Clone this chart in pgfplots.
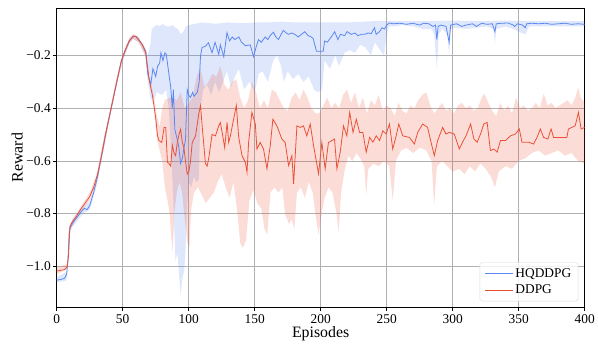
\documentclass[border=0pt]{standalone}
\usepackage{fontspec}
\setmainfont{Liberation Serif}
\usepackage{pgfplots}
\usepackage{pgfplotstable}
\pgfplotsset{compat=1.18}
\usepgfplotslibrary{fillbetween}
\definecolor{hqblue}{RGB}{90,135,240}
\definecolor{ddred}{RGB}{235,80,55}
\definecolor{gridgray}{RGB}{176,176,176}

\pgfplotstableread{
x y
0 -1.052
3 -1.05
6 -1.045
7.5 -1.03
8.5 -0.98
9.5 -0.87
10.5 -0.85
13 -0.83
16 -0.81
19 -0.79
21 -0.78
23 -0.785
25 -0.77
28 -0.72
31 -0.66
34 -0.58
37 -0.50
40 -0.43
43 -0.36
46 -0.29
49 -0.22
52 -0.18
55 -0.145
58 -0.128
60 -0.128
62 -0.14
65 -0.16
67.5 -0.185
69 -0.27
71.3 -0.31
72.9 -0.25
74 -0.265
75 -0.28
76.5 -0.24
78 -0.23
79 -0.19
80.5 -0.22
82 -0.19
83 -0.195
85 -0.27
86.4 -0.32
87.6 -0.40
88.4 -0.33
89.5 -0.48
91.4 -0.52
92.6 -0.55
93.9 -0.61
95.2 -0.59
96.4 -0.55
97.6 -0.52
98.9 -0.33
100 -0.35
101.4 -0.36
103 -0.34
104 -0.355
106.5 -0.34
108 -0.30
109 -0.20
110.2 -0.17
112.7 -0.165
115 -0.152
117.7 -0.19
120 -0.15
122.8 -0.196
124 -0.16
126.6 -0.205
129 -0.114
131 -0.145
133 -0.13
135 -0.14
138 -0.13
140 -0.15
143 -0.163
146.6 -0.16
149.2 -0.205
151 -0.17
152.9 -0.14
155 -0.15
158 -0.13
160 -0.14
161.7 -0.125
164.2 -0.112
166 -0.13
168 -0.14
170 -0.12
171.7 -0.105
174 -0.115
175.5 -0.12
178 -0.115
180.5 -0.12
183 -0.13
185.5 -0.12
188 -0.11
190.5 -0.125
193 -0.13
194.3 -0.136
196.8 -0.184
200 -0.184
201.9 -0.184
203 -0.145
205 -0.15
208 -0.13
210.6 -0.11
213 -0.14
215 -0.12
218.2 -0.125
220 -0.11
223.2 -0.12
226 -0.115
228.2 -0.125
231 -0.12
233.3 -0.12
236 -0.115
238.3 -0.117
240.8 -0.095
242 -0.12
244.6 -0.11
246.5 -0.095
248.4 -0.10
250 -0.085
252.1 -0.077
255 -0.08
260 -0.078
265 -0.082
270 -0.078
275 -0.085
278 -0.078
282 -0.08
285 -0.09
287 -0.085
288 -0.14
289 -0.09
291 -0.085
295 -0.09
297.3 -0.15
298.5 -0.085
303 -0.08
307 -0.09
310 -0.085
315 -0.08
318 -0.09
322 -0.078
326 -0.082
330 -0.08
332 -0.11
333 -0.08
337 -0.078
342 -0.077
346 -0.085
347 -0.09
349 -0.08
353 -0.085
355 -0.095
356 -0.08
360 -0.078
365 -0.08
370 -0.078
375 -0.082
380 -0.08
385 -0.078
390 -0.082
395 -0.08
400 -0.082
}\hqmean

\pgfplotstableread{
x y
0 -1.04
8 -1.02
9.5 -0.86
12 -0.82
20 -0.77
25 -0.755
30 -0.67
35 -0.545
40 -0.42
45 -0.30
50 -0.2
55 -0.135
58 -0.12
62 -0.13
67 -0.17
69 -0.2
71 -0.16
72 -0.10
74 -0.09
76 -0.085
78 -0.09
80 -0.08
83 -0.09
86 -0.09
88 -0.085
90 -0.095
92 -0.10
94 -0.12
96 -0.11
98 -0.09
100 -0.085
105 -0.08
110 -0.075
120 -0.08
130 -0.075
140 -0.078
150 -0.075
160 -0.075
170 -0.072
180 -0.075
200 -0.075
220 -0.075
240 -0.07
250 -0.07
260 -0.07
280 -0.07
300 -0.068
320 -0.07
340 -0.068
360 -0.07
380 -0.07
400 -0.07
}\hqup

\pgfplotstableread{
x y
0 -1.06
7 -1.055
8 -1.04
9.5 -0.88
12 -0.85
20 -0.80
25 -0.785
30 -0.70
35 -0.575
40 -0.44
45 -0.32
50 -0.225
55 -0.155
58 -0.138
62 -0.15
67 -0.2
69 -0.30
71 -0.36
73 -0.38
76 -0.34
80 -0.35
83 -0.33
85 -0.40
86.5 -0.55
88 -0.70
89 -0.85
90 -0.98
91.5 -0.95
93 -1.05
94 -1.11
95 -1.05
96.5 -1.02
97.5 -0.95
98.5 -0.80
100 -0.68
102 -0.70
104 -0.66
106 -0.68
107.7 -0.67
109 -0.40
111 -0.33
114 -0.31
117 -0.35
120 -0.30
123 -0.34
126 -0.30
129 -0.26
132 -0.32
135 -0.28
138 -0.25
142 -0.33
146 -0.30
150 -0.34
153 -0.27
156 -0.26
160 -0.30
164 -0.22
167 -0.20
170 -0.24
172 -0.30
175 -0.26
179 -0.29
183 -0.27
187 -0.30
191 -0.28
195 -0.33
198 -0.34
201 -0.33
203 -0.22
207 -0.25
211 -0.20
214 -0.24
218 -0.19
222 -0.18
226 -0.19
230 -0.16
234 -0.17
238 -0.20
241 -0.15
245 -0.18
248 -0.20
250 -0.12
252 -0.09
256 -0.09
262 -0.085
270 -0.09
278 -0.10
284 -0.10
286 -0.12
288 -0.25
289.5 -0.12
292 -0.10
296 -0.12
297.3 -0.20
298.5 -0.10
303 -0.095
310 -0.10
318 -0.095
326 -0.09
331 -0.10
332 -0.16
333 -0.10
340 -0.09
346 -0.10
350 -0.11
355 -0.12
358 -0.09
365 -0.09
375 -0.09
385 -0.09
395 -0.09
400 -0.09
}\hqlow

\pgfplotstableread{
x y
0 -1.018
3 -1.015
6 -1.012
8 -1.0
9 -0.96
10 -0.85
12 -0.83
15 -0.81
18 -0.785
20 -0.77
23 -0.75
25 -0.735
28 -0.70
31 -0.65
34 -0.58
37 -0.50
40 -0.43
43 -0.36
46 -0.29
49 -0.22
52 -0.18
55 -0.145
58 -0.127
60 -0.128
62 -0.14
65 -0.16
67.5 -0.19
70 -0.29
72.6 -0.353
75.1 -0.44
76.4 -0.505
77.6 -0.523
79.6 -0.53
81.4 -0.473
82.6 -0.473
83.9 -0.605
85.1 -0.61
86.4 -0.62
87.6 -0.54
88.9 -0.57
90.1 -0.58
91.4 -0.53
92.7 -0.50
93.9 -0.48
95.2 -0.53
96.4 -0.55
97.6 -0.60
98.9 -0.65
100.2 -0.64
101.4 -0.60
102.7 -0.53
105.2 -0.505
107.7 -0.42
109 -0.39
110.2 -0.467
112.7 -0.61
114 -0.62
115.2 -0.59
117.7 -0.50
120.3 -0.505
122.8 -0.467
124 -0.455
125.3 -0.49
127.3 -0.55
129.1 -0.454
130.3 -0.53
131.6 -0.505
134.1 -0.44
136.1 -0.39
137.9 -0.51
140.4 -0.58
142.9 -0.605
144.2 -0.643
145.4 -0.53
147.9 -0.416
150.5 -0.46
151.7 -0.555
154.2 -0.53
156.7 -0.555
159.3 -0.63
161.8 -0.542
163.8 -0.442
166.8 -0.467
170.6 -0.517
173.1 -0.53
175.7 -0.618
178.2 -0.58
179.5 -0.687
182 -0.467
184.5 -0.473
187 -0.467
189.5 -0.505
192.1 -0.46
194.6 -0.542
198.4 -0.649
200.9 -0.53
203.4 -0.63
205.9 -0.53
208.5 -0.523
210.5 -0.517
212.3 -0.63
214.8 -0.567
217.3 -0.467
219.8 -0.505
222 -0.416
224.5 -0.492
227 -0.442
229.5 -0.492
232 -0.492
234.5 -0.567
237.1 -0.511
239.6 -0.529
242.1 -0.505
244.6 -0.523
247.1 -0.486
249.6 -0.498
252.1 -0.46
254.6 -0.555
257.2 -0.505
259.2 -0.46
262.2 -0.505
267.2 -0.511
271 -0.536
273.5 -0.492
277.3 -0.46
281 -0.473
283.6 -0.529
286.1 -0.58
288.6 -0.523
292.4 -0.473
294.9 -0.498
297.4 -0.492
301.2 -0.498
305 -0.555
307.5 -0.529
310.1 -0.505
313.6 -0.46
316.1 -0.517
318.6 -0.529
321.1 -0.498
323.6 -0.46
326.1 -0.454
328.6 -0.561
331.2 -0.555
333.7 -0.567
336.2 -0.523
340 -0.523
343.8 -0.505
347.5 -0.498
350.5 -0.479
352.5 -0.529
357.6 -0.529
361.3 -0.536
363.9 -0.511
366.4 -0.479
368.9 -0.511
372.1 -0.517
374.6 -0.479
376.4 -0.511
382.7 -0.511
386.5 -0.511
387.7 -0.479
390.3 -0.473
392.8 -0.467
395.3 -0.416
397.3 -0.479
400 -0.473
}\ddmean

\pgfplotstableread{
x y
0 -1.005
8 -0.99
10 -0.84
15 -0.80
20 -0.76
25 -0.72
30 -0.655
35 -0.53
40 -0.415
45 -0.29
50 -0.195
55 -0.135
58 -0.118
62 -0.13
67 -0.18
70 -0.28
73 -0.34
76 -0.43
78 -0.47
80 -0.40
82 -0.37
85 -0.36
88 -0.36
91 -0.37
94 -0.34
97 -0.40
100 -0.38
103 -0.36
106 -0.28
109 -0.25
112 -0.32
115 -0.30
118 -0.27
121 -0.28
124 -0.24
127 -0.31
130 -0.33
133 -0.30
136 -0.29
139 -0.36
142 -0.40
145 -0.37
148 -0.30
151 -0.34
154 -0.40
157 -0.37
160 -0.40
163 -0.33
166 -0.34
169 -0.37
172 -0.40
175 -0.41
178 -0.36
181 -0.34
184 -0.37
187 -0.33
190 -0.36
193 -0.40
196 -0.42
199 -0.42
202 -0.39
205 -0.36
208 -0.40
211 -0.38
214 -0.40
217 -0.35
220 -0.33
223 -0.38
226 -0.34
229 -0.40
232 -0.36
235 -0.42
238 -0.37
241 -0.39
244 -0.35
247 -0.41
250 -0.39
253 -0.40
256 -0.43
259 -0.38
262 -0.41
265 -0.42
268 -0.39
271 -0.40
274 -0.37
277 -0.35
280 -0.34
283 -0.39
286 -0.42
289 -0.40
292 -0.38
295 -0.41
298 -0.40
301 -0.42
304 -0.39
307 -0.38
310 -0.40
313 -0.39
316 -0.41
319 -0.40
322 -0.36
324 -0.345
327 -0.38
330 -0.41
333 -0.43
336 -0.38
339 -0.41
342 -0.39
345 -0.42
348 -0.36
351 -0.40
354 -0.39
357 -0.41
360 -0.40
363 -0.38
366 -0.40
369 -0.345
372 -0.39
375 -0.38
378 -0.40
381 -0.39
384 -0.38
387 -0.37
390 -0.39
393 -0.36
395 -0.32
397 -0.36
400 -0.38
}\ddup

\pgfplotstableread{
x y
0 -1.03
8 -1.01
10 -0.86
15 -0.82
20 -0.78
25 -0.75
30 -0.685
35 -0.57
40 -0.445
45 -0.31
50 -0.215
55 -0.155
58 -0.137
62 -0.15
67 -0.2
70 -0.30
73 -0.37
76 -0.52
78 -0.56
80 -0.60
82 -0.70
84 -0.75
85.5 -0.80
87 -0.90
88 -0.945
89 -0.80
91 -0.72
93 -0.68
95 -0.72
97 -0.82
99 -0.91
100.5 -0.93
102 -0.78
104 -0.72
107 -0.70
110 -0.73
113 -0.76
116 -0.74
119 -0.72
122 -0.68
125 -0.65
128 -0.70
131 -0.74
134 -0.68
137 -0.80
139 -0.91
141 -0.93
143.5 -0.90
146 -0.75
149 -0.71
152 -0.76
155 -0.78
157.5 -0.86
159.5 -0.88
162 -0.72
165 -0.70
168 -0.72
171 -0.70
173 -0.80
176 -0.84
178 -0.82
180 -0.86
182 -0.72
185 -0.70
188 -0.74
191 -0.68
194 -0.72
196 -0.80
198.4 -0.88
200 -0.82
203 -0.74
206 -0.70
209 -0.72
212 -0.80
213.6 -0.87
215.5 -0.72
218 -0.64
221 -0.58
224 -0.60
227 -0.57
230 -0.59
233 -0.62
234.5 -0.73
236 -0.63
240 -0.61
244 -0.62
248 -0.60
252 -0.62
254.6 -0.75
257 -0.60
261 -0.56
265 -0.55
270 -0.57
275 -0.55
280 -0.56
284 -0.60
286 -0.77
288 -0.62
292 -0.60
296 -0.62
300 -0.64
305 -0.63
309 -0.65
313 -0.62
317 -0.64
321 -0.61
325 -0.63
329 -0.66
332 -0.70
335 -0.64
340 -0.62
345 -0.63
350 -0.60
355 -0.59
360 -0.57
365 -0.56
370 -0.58
375 -0.57
380 -0.56
385 -0.58
390 -0.57
395 -0.60
400 -0.61
}\ddlow

\begin{document}
\begin{tikzpicture}
\begin{axis}[
  name=ax,
  scale only axis,
  width=531bp, height=301bp,
  xmin=0, xmax=400,
  ymin=-1.155, ymax=-0.02,
  xtick={0,50,100,150,200,250,300,350,400},
  ytick={-1.0,-0.8,-0.6,-0.4,-0.2},
  yticklabels={−1.0,−0.8,−0.6,−0.4,−0.2},
  xticklabels={0,50,100,150,200,250,300,350,400},
  tick align=outside,
  major tick length=3.5bp,
  tick style={black, line width=0.6pt},
  xtick pos=bottom, ytick pos=left,
  ticklabel style={font=\fontsize{13.5}{13.5}\selectfont},
  yticklabel style={xshift=1bp},
  grid=major,
  major grid style={gridgray, line width=0.8pt},
  axis line style={black, line width=0.8pt},
  xlabel={Episodes}, ylabel={Reward},
  every axis x label/.style={at={(axis description cs:0.5,-0.09)}, anchor=center, font=\fontsize{16}{16}\selectfont},
  every axis y label/.style={at={(axis description cs:-0.075,0.5)}, anchor=center, rotate=90, font=\fontsize{16}{16}\selectfont},
  legend style={at={(rel axis cs:0.988,0.02)}, anchor=south east, draw=gray!30, rounded corners=2pt, font=\fontsize{13.5}{16}\selectfont, inner xsep=5bp, inner ysep=4bp, row sep=2bp, fill=white, fill opacity=0.8, text opacity=1},
  legend cell align=left,
  legend image code/.code={\draw[#1] (0bp,0bp) -- (28bp,0bp);},
]
\addplot[name path=hqu, draw=none, forget plot] table {\hqup};
\addplot[name path=hql, draw=none, forget plot] table {\hqlow};
\addplot[fill=hqblue, fill opacity=0.2, draw=none, forget plot] fill between[of=hqu and hql];
\addplot[name path=ddu, draw=none, forget plot] table {\ddup};
\addplot[name path=ddl, draw=none, forget plot] table {\ddlow};
\addplot[fill=ddred, fill opacity=0.2, draw=none, forget plot] fill between[of=ddu and ddl];
\addplot[hqblue, line width=0.8pt] table {\hqmean};
\addlegendentry{HQDDPG}
\addplot[ddred, line width=0.8pt] table {\ddmean};
\addlegendentry{DDPG}
\end{axis}
\path ([xshift=-57bp,yshift=-34bp]ax.south west) rectangle ([xshift=10bp,yshift=8bp]ax.north east);
\end{tikzpicture}
\end{document}
